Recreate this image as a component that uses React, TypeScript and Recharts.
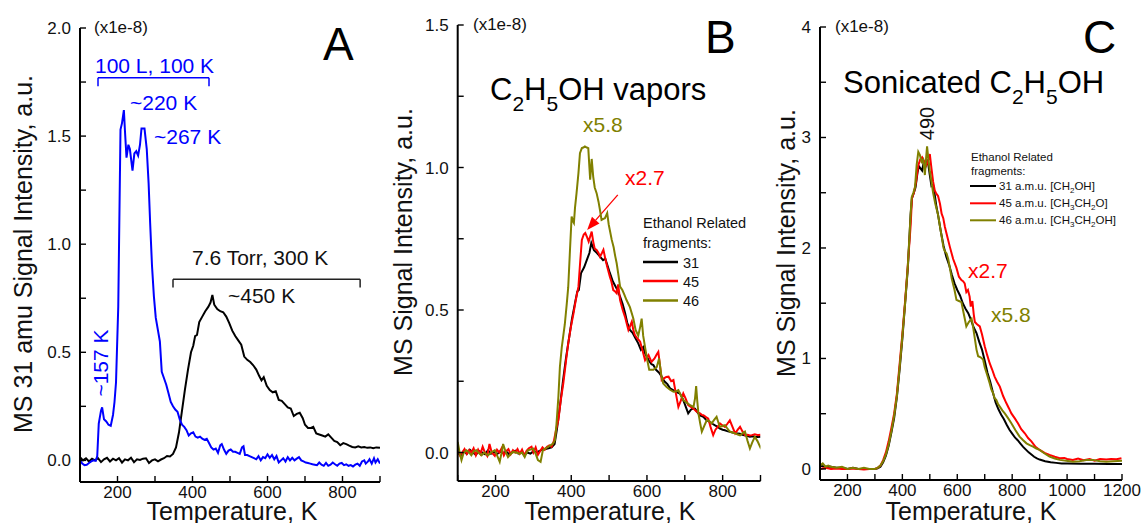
import React from 'react';
import { LineChart, Line, XAxis, YAxis, ReferenceLine, Customized } from 'recharts';

type P = [number, number];

const W = 1143;
const H = 523;
const FONT = '"Liberation Sans", Arial, Helvetica, sans-serif';
const BLUE = '#0000ff';
const RED = '#ff0000';
const OLIVE = '#808000';
const BLACK = '#000000';
const YAXIS_W = 40;
const XAXIS_H = 30;

// ---------- Panel A ----------
const A_X_TICKS = [100, 200, 300, 400, 500, 600, 700, 800, 900];
const A_X_LABELS = [200, 400, 600, 800];
const A_Y_TICKS = [0, 0.25, 0.5, 0.75, 1, 1.25, 1.5, 1.75, 2];
const A_Y_LABELS = [0, 0.5, 1, 1.5, 2];

const A_BLACK: P[] = [
  [100, 0.015], [108, 0.0], [116, 0.01], [124, -0.005], [132, 0.008], [140, 0.0], [148, 0.01], [156, -0.008],
  [164, 0.005], [172, 0.012], [180, -0.005], [188, 0.008], [196, 0.0], [204, 0.01], [212, -0.01], [220, 0.005],
  [228, 0.0], [236, 0.012], [244, -0.008], [252, 0.005], [260, 0.002], [268, 0.008], [276, 0.01], [284, -0.012],
  [292, 0.0], [300, 0.005], [308, -0.004], [316, 0.004], [324, 0.01], [332, 0.02], [340, 0.018], [348, 0.03],
  [356, 0.06], [364, 0.13], [372, 0.23], [380, 0.33], [388, 0.42], [396, 0.5], [402, 0.53], [407, 0.575],
  [412, 0.58], [418, 0.64], [426, 0.665], [434, 0.69], [442, 0.71], [448, 0.73], [453, 0.765], [458, 0.72],
  [466, 0.7], [474, 0.69], [482, 0.685], [490, 0.665], [498, 0.635], [506, 0.6], [514, 0.575], [522, 0.555],
  [530, 0.535], [538, 0.48], [546, 0.465], [554, 0.455], [562, 0.44], [570, 0.42], [578, 0.39], [584, 0.37],
  [590, 0.385], [598, 0.345], [606, 0.325], [614, 0.315], [622, 0.32], [630, 0.28], [638, 0.275], [646, 0.26],
  [654, 0.245], [662, 0.24], [670, 0.205], [678, 0.215], [686, 0.22], [694, 0.195], [700, 0.165], [708, 0.15],
  [716, 0.15], [722, 0.155], [730, 0.125], [738, 0.12], [746, 0.115], [754, 0.11], [762, 0.12], [770, 0.105],
  [778, 0.09], [786, 0.085], [794, 0.07], [802, 0.08], [810, 0.075], [818, 0.068], [826, 0.062], [834, 0.06],
  [842, 0.065], [850, 0.06], [858, 0.062], [866, 0.058], [874, 0.06], [882, 0.056], [890, 0.06], [900, 0.058],
];

const A_BLUE: P[] = [
  [100, 0.0], [106, -0.015], [112, -0.022], [118, -0.02], [124, -0.012], [130, -0.005], [136, 0.0], [142, -0.002],
  [146, 0.02], [150, 0.17], [156, 0.23], [159, 0.245], [164, 0.19], [170, 0.18], [176, 0.165], [182, 0.16],
  [188, 0.21], [192, 0.27], [196, 0.36], [202, 0.71], [208, 1.53], [212, 1.56], [217, 1.62], [220, 1.52],
  [224, 1.4], [229, 1.46], [233, 1.44], [240, 1.34], [245, 1.42], [250, 1.43], [255, 1.41], [260, 1.46],
  [264, 1.535], [272, 1.535], [278, 1.44], [283, 1.28], [287, 1.1], [292, 0.9], [297, 0.76], [302, 0.66],
  [308, 0.6], [313, 0.55], [318, 0.41], [324, 0.38], [330, 0.35], [336, 0.31], [342, 0.27], [348, 0.25],
  [354, 0.235], [360, 0.225], [366, 0.19], [372, 0.165], [378, 0.155], [384, 0.14], [390, 0.115], [396, 0.125],
  [402, 0.13], [408, 0.11], [414, 0.105], [420, 0.11], [426, 0.1], [432, 0.095], [438, 0.1], [444, 0.08],
  [450, 0.06], [456, 0.05], [462, 0.055], [468, 0.035], [474, 0.07], [478, 0.075], [484, 0.05], [490, 0.03],
  [496, 0.045], [502, 0.05], [508, 0.04], [514, 0.04], [520, 0.035], [526, 0.03], [532, 0.06], [536, 0.065],
  [540, 0.025], [546, 0.025], [552, 0.02], [558, 0.015], [564, 0.01], [570, 0.005], [576, 0.02], [582, 0.0],
  [588, 0.015], [594, 0.01], [600, 0.028], [606, 0.012], [612, 0.025], [618, 0.005], [624, 0.02], [630, -0.01],
  [636, 0.0], [642, 0.01], [648, -0.005], [654, 0.015], [660, 0.0], [666, 0.012], [672, 0.0], [678, 0.008],
  [684, 0.015], [690, 0.0], [696, -0.005], [702, -0.01], [708, -0.012], [714, -0.015], [720, -0.018], [726, -0.02],
  [732, -0.022], [738, -0.01], [744, -0.02], [750, -0.025], [756, -0.012], [762, -0.025], [768, -0.02], [774, -0.01],
  [780, -0.018], [786, -0.025], [792, -0.015], [798, -0.012], [804, -0.022], [810, -0.018], [816, -0.025], [822, -0.022],
  [828, -0.028], [834, -0.02], [840, -0.015], [846, -0.025], [852, -0.005], [858, 0.0], [862, -0.015], [868, -0.005],
  [872, 0.005], [878, -0.015], [884, 0.01], [888, -0.01], [894, 0.005], [900, -0.015],
];

// ---------- Panel B ----------
const B_X_TICKS = [100, 200, 300, 400, 500, 600, 700, 800, 900];
const B_X_LABELS = [200, 400, 600, 800];
const B_Y_TICKS = [0, 0.25, 0.5, 0.75, 1, 1.25, 1.5];
const B_Y_LABELS = [0, 0.5, 1, 1.5];

const B_31: P[] = [
  [100, 0.0], [108, -0.01], [116, 0.005], [124, -0.005], [132, 0.01], [140, 0.0], [148, -0.008], [156, 0.005],
  [164, 0.0], [172, -0.006], [180, 0.008], [188, -0.004], [196, 0.002], [204, -0.006], [212, 0.004], [220, -0.002],
  [228, 0.004], [236, -0.006], [244, 0.0], [252, 0.006], [260, -0.004], [268, 0.002], [276, -0.008], [284, 0.0],
  [292, -0.004], [300, 0.004], [308, 0.0], [316, 0.006], [324, 0.01], [332, 0.012], [340, 0.015], [348, 0.018],
  [356, 0.03], [362, 0.08], [370, 0.16], [378, 0.25], [386, 0.33], [394, 0.4], [402, 0.47], [410, 0.525],
  [416, 0.565], [420, 0.57], [426, 0.63], [434, 0.65], [441, 0.675], [448, 0.7], [453, 0.735], [460, 0.71],
  [468, 0.7], [476, 0.687], [484, 0.675], [490, 0.68], [496, 0.655], [502, 0.63], [510, 0.6], [516, 0.585],
  [522, 0.57], [529, 0.547], [536, 0.52], [542, 0.49], [548, 0.455], [555, 0.43], [562, 0.42], [570, 0.4],
  [577, 0.383], [584, 0.36], [590, 0.37], [595, 0.348], [600, 0.335], [606, 0.32], [612, 0.31], [617, 0.307],
  [624, 0.29], [632, 0.28], [639, 0.266], [646, 0.25], [654, 0.24], [661, 0.225], [668, 0.22], [674, 0.215],
  [681, 0.21], [687, 0.207], [694, 0.19], [700, 0.17], [709, 0.137], [716, 0.15], [722, 0.155], [727, 0.154],
  [734, 0.14], [740, 0.13], [749, 0.125], [756, 0.115], [762, 0.11], [767, 0.107], [774, 0.1], [780, 0.095],
  [787, 0.09], [793, 0.084], [800, 0.08], [806, 0.078], [812, 0.075], [819, 0.073], [826, 0.07], [833, 0.068],
  [840, 0.067], [846, 0.066], [852, 0.062], [860, 0.06], [866, 0.058], [872, 0.055], [880, 0.057], [886, 0.055],
  [892, 0.054], [900, 0.055],
];

const B_45: P[] = [
  [100, 0.005], [106, -0.01], [112, 0.0], [118, 0.012], [124, -0.005], [130, 0.008], [136, 0.0], [142, 0.015],
  [148, -0.01], [154, 0.01], [160, -0.005], [166, 0.02], [172, 0.0], [178, -0.012], [184, 0.03], [190, 0.0],
  [198, -0.012], [204, 0.01], [210, 0.0], [216, 0.015], [222, -0.01], [228, 0.005], [234, 0.012], [240, -0.006],
  [246, 0.008], [252, 0.0], [258, 0.012], [264, -0.004], [270, 0.01], [276, -0.01], [282, 0.006], [288, 0.015],
  [295, 0.02], [300, 0.0], [306, 0.018], [312, -0.008], [318, 0.005], [324, 0.018], [330, 0.01], [336, 0.02],
  [342, 0.025], [348, 0.02], [354, 0.04], [360, 0.08], [366, 0.114], [372, 0.18], [379, 0.243], [386, 0.32],
  [392, 0.383], [399, 0.44], [406, 0.488], [412, 0.535], [419, 0.582], [423, 0.658], [428, 0.746], [433, 0.765],
  [437, 0.77], [442, 0.755], [446, 0.74], [450, 0.758], [454, 0.775], [458, 0.74], [462, 0.715], [467, 0.711],
  [472, 0.7], [476, 0.687], [481, 0.7], [485, 0.711], [490, 0.68], [495, 0.652], [502, 0.617], [506, 0.6],
  [511, 0.57], [516, 0.565], [520, 0.559], [524, 0.59], [529, 0.535], [536, 0.5], [542, 0.476], [547, 0.45],
  [551, 0.43], [556, 0.445], [560, 0.459], [564, 0.43], [568, 0.412], [575, 0.4], [582, 0.389], [588, 0.36],
  [595, 0.324], [600, 0.335], [604, 0.342], [608, 0.33], [612, 0.318], [620, 0.33], [626, 0.345], [630, 0.353],
  [635, 0.3], [639, 0.254], [645, 0.26], [651, 0.265], [657, 0.266], [664, 0.25], [670, 0.254], [676, 0.21],
  [683, 0.16], [689, 0.18], [696, 0.207], [702, 0.19], [709, 0.166], [716, 0.16], [723, 0.154], [730, 0.145],
  [736, 0.14], [740, 0.137], [745, 0.132], [749, 0.131], [756, 0.124], [762, 0.119], [768, 0.09], [775, 0.061],
  [781, 0.08], [787, 0.09], [793, 0.102], [800, 0.095], [806, 0.09], [812, 0.1], [819, 0.113], [826, 0.09],
  [833, 0.067], [840, 0.08], [846, 0.09], [852, 0.075], [859, 0.061], [866, 0.062], [872, 0.06], [877, 0.061],
  [885, 0.064], [894, 0.061], [900, 0.062],
];

const B_46: P[] = [
  [100, 0.037], [105, 0.0], [110, -0.027], [116, 0.0], [123, 0.008], [130, 0.0], [136, -0.01], [143, 0.005],
  [149, 0.008], [156, -0.002], [163, -0.01], [170, 0.0], [180, -0.01], [188, 0.0], [198, 0.008], [204, -0.01],
  [211, -0.033], [216, 0.0], [220, 0.03], [226, 0.005], [233, -0.016], [240, -0.005], [246, 0.002], [254, 0.0],
  [264, -0.004], [270, 0.0], [277, -0.016], [282, 0.0], [286, 0.008], [292, 0.01], [299, 0.014], [306, -0.005],
  [312, -0.027], [319, -0.033], [325, 0.008], [332, 0.015], [339, 0.02], [346, 0.026], [352, 0.031], [357, 0.044],
  [361, 0.1], [366, 0.195], [370, 0.3], [375, 0.37], [383, 0.45], [388, 0.52], [392, 0.58], [397, 0.72],
  [401, 0.828], [405, 0.81], [407, 0.805], [410, 0.86], [414, 0.91], [419, 0.98], [423, 1.05], [428, 1.068],
  [432, 1.07], [436, 1.074], [441, 1.07], [445, 1.068], [448, 1.0], [450, 0.957], [454, 1.03], [458, 0.968],
  [462, 0.93], [467, 0.91], [472, 0.88], [476, 0.85], [480, 0.816], [485, 0.82], [489, 0.822], [495, 0.84],
  [499, 0.8], [502, 0.78], [507, 0.746], [512, 0.72], [516, 0.69], [520, 0.664], [525, 0.62], [529, 0.582],
  [535, 0.57], [540, 0.555], [546, 0.535], [555, 0.51], [564, 0.47], [570, 0.43], [577, 0.41], [582, 0.44],
  [586, 0.47], [590, 0.41], [595, 0.37], [600, 0.33], [606, 0.29], [617, 0.29], [626, 0.3], [632, 0.33],
  [638, 0.27], [643, 0.242], [652, 0.23], [661, 0.22], [670, 0.213], [678, 0.215], [683, 0.219], [690, 0.2],
  [696, 0.184], [705, 0.175], [714, 0.166], [723, 0.16], [727, 0.19], [730, 0.233], [733, 0.18], [736, 0.137],
  [741, 0.1], [745, 0.073], [752, 0.095], [758, 0.113], [765, 0.11], [771, 0.102], [778, 0.115], [784, 0.125],
  [790, 0.1], [793, 0.09], [800, 0.093], [806, 0.096], [812, 0.085], [819, 0.073], [826, 0.07], [833, 0.067],
  [840, 0.063], [846, 0.06], [852, 0.067], [859, 0.073], [866, 0.04], [872, 0.014], [878, 0.035], [885, 0.055],
  [892, 0.04], [899, 0.02], [900, 0.025],
];

// ---------- Panel C ----------
const C_X_TICKS = [100, 200, 300, 400, 500, 600, 700, 800, 900, 1000, 1100, 1200];
const C_X_LABELS = [200, 400, 600, 800, 1000, 1200];
const C_Y_TICKS = [0, 0.5, 1, 1.5, 2, 2.5, 3, 3.5, 4];
const C_Y_LABELS = [0, 1, 2, 3, 4];

const C_31: P[] = [
  [100, 0.03], [120, 0.02], [140, 0.02], [160, 0.01], [180, 0.01], [200, 0.0], [220, 0.01], [240, 0.0],
  [260, 0.0], [280, 0.0], [300, 0.0], [310, 0.005], [320, 0.02], [330, 0.06], [340, 0.12], [350, 0.21],
  [360, 0.33], [370, 0.46], [380, 0.65], [390, 0.9], [400, 1.18], [410, 1.5], [420, 1.82], [430, 2.3],
  [435, 2.45], [442, 2.5], [448, 2.55], [455, 2.68], [460, 2.74], [466, 2.72], [472, 2.7], [478, 2.78],
  [485, 2.74], [492, 2.8], [500, 2.66], [506, 2.56], [512, 2.57], [518, 2.48], [524, 2.375], [530, 2.3],
  [540, 2.15], [550, 2.02], [560, 1.92], [570, 1.85], [580, 1.76], [590, 1.68], [600, 1.62], [610, 1.57],
  [620, 1.5], [630, 1.45], [640, 1.41], [650, 1.35], [660, 1.28], [670, 1.23], [680, 1.15], [690, 1.08],
  [700, 0.98], [710, 0.87], [720, 0.79], [730, 0.69], [740, 0.6], [750, 0.54], [760, 0.49], [770, 0.45],
  [780, 0.4], [790, 0.355], [800, 0.32], [810, 0.285], [820, 0.26], [830, 0.23], [840, 0.2], [850, 0.175],
  [860, 0.15], [870, 0.13], [880, 0.11], [890, 0.095], [900, 0.085], [920, 0.07], [940, 0.06], [960, 0.055],
  [980, 0.05], [1000, 0.05], [1050, 0.048], [1100, 0.046], [1150, 0.045], [1200, 0.045],
];

const C_45: P[] = [
  [100, 0.0], [120, 0.01], [140, 0.0], [160, 0.005], [180, 0.0], [200, 0.0], [220, 0.005], [240, 0.0],
  [260, -0.005], [280, 0.0], [300, 0.0], [310, 0.01], [320, 0.03], [330, 0.08], [340, 0.15], [350, 0.25],
  [360, 0.37], [370, 0.5], [380, 0.68], [390, 0.95], [400, 1.22], [410, 1.52], [420, 1.85], [430, 2.2],
  [435, 2.45], [442, 2.5], [450, 2.6], [458, 2.75], [465, 2.8], [472, 2.82], [480, 2.78], [488, 2.75],
  [495, 2.8], [500, 2.85], [506, 2.72], [512, 2.6], [518, 2.52], [524, 2.49], [530, 2.47], [537, 2.4],
  [543, 2.31], [549, 2.27], [555, 2.19], [564, 2.1], [573, 2.01], [585, 1.9], [597, 1.82], [606, 1.74],
  [615, 1.71], [621, 1.7], [627, 1.68], [633, 1.6], [639, 1.62], [645, 1.56], [649, 1.47], [655, 1.52],
  [660, 1.4], [664, 1.33], [672, 1.31], [682, 1.29], [690, 1.22], [700, 1.11], [709, 1.03], [718, 0.957],
  [727, 0.9], [736, 0.836], [745, 0.79], [755, 0.745], [767, 0.66], [779, 0.594], [788, 0.55], [797, 0.503],
  [809, 0.46], [821, 0.413], [833, 0.36], [846, 0.323], [858, 0.28], [870, 0.25], [885, 0.2], [900, 0.172],
  [918, 0.145], [936, 0.127], [955, 0.11], [973, 0.097], [990, 0.1], [1000, 0.09], [1021, 0.082], [1040, 0.095],
  [1060, 0.08], [1082, 0.09], [1100, 0.075], [1120, 0.09], [1143, 0.085], [1160, 0.09], [1180, 0.088], [1198, 0.097],
];

const C_46: P[] = [
  [100, 0.03], [110, 0.05], [120, 0.02], [130, 0.03], [140, 0.02], [160, 0.01], [180, 0.02], [200, 0.0],
  [220, 0.01], [240, 0.0], [260, 0.01], [280, 0.0], [300, 0.0], [310, 0.01], [320, 0.03], [330, 0.07],
  [340, 0.13], [350, 0.22], [360, 0.34], [370, 0.48], [380, 0.66], [390, 0.92], [400, 1.2], [410, 1.5],
  [420, 1.84], [430, 2.3], [434, 2.46], [440, 2.5], [446, 2.55], [452, 2.75], [458, 2.87], [464, 2.84],
  [470, 2.78], [476, 2.8], [482, 2.66], [486, 2.8], [490, 2.92], [495, 2.8], [500, 2.7], [506, 2.6],
  [512, 2.5], [520, 2.4], [530, 2.3], [540, 2.15], [550, 2.0], [555, 1.97], [561, 1.95], [567, 1.9],
  [573, 1.82], [580, 1.72], [590, 1.62], [597, 1.53], [606, 1.52], [615, 1.51], [624, 1.4], [633, 1.29],
  [642, 1.33], [652, 1.36], [658, 1.28], [664, 1.18], [670, 1.08], [676, 1.02], [685, 1.01], [694, 0.99],
  [700, 0.92], [709, 0.85], [718, 0.776], [724, 0.72], [730, 0.69], [736, 0.64], [742, 0.625], [748, 0.59],
  [755, 0.564], [764, 0.53], [773, 0.503], [785, 0.46], [797, 0.413], [812, 0.35], [827, 0.293], [840, 0.26],
  [852, 0.232], [864, 0.215], [876, 0.202], [888, 0.185], [900, 0.172], [918, 0.14], [936, 0.112], [955, 0.095],
  [973, 0.082], [997, 0.075], [1021, 0.066], [1045, 0.07], [1070, 0.08], [1094, 0.082], [1120, 0.07], [1143, 0.066],
  [1170, 0.07], [1200, 0.075],
];

const toRows = (pts: P[]) => pts.map(([t, v]) => ({ t, v }));

const makeXTick = (labels: number[]) => (props: any) => {
  const { x, y, payload } = props;
  const v = payload.value;
  return (
    <g>
      <line x1={x} y1={y} x2={x} y2={y - 6} stroke="#000" strokeWidth={1.4} />
      {labels.includes(v) && (
        <text x={x} y={y + 16} textAnchor="middle" fontSize={17} fill="#111" fontFamily={FONT}>
          {v}
        </text>
      )}
    </g>
  );
};

const makeYTick = (labels: number[], fmt: (v: number) => string) => (props: any) => {
  const { x, y, payload } = props;
  const v = payload.value;
  return (
    <g>
      <line x1={x} y1={y} x2={x + 6} y2={y} stroke="#000" strokeWidth={1.4} />
      {labels.includes(v) && (
        <text x={x - 9} y={y + 6} textAnchor="end" fontSize={17} fill="#111" fontFamily={FONT}>
          {fmt(v)}
        </text>
      )}
    </g>
  );
};

const Arrow = (p: any) => {
  const { x1, y1, x2, y2 } = p;
  if (x1 == null || y1 == null || x2 == null || y2 == null) return null;
  const ang = Math.atan2(y2 - y1, x2 - x1);
  const L = 13;
  const Wd = 5;
  const bx = x2 - L * Math.cos(ang);
  const by = y2 - L * Math.sin(ang);
  const px = -Math.sin(ang) * Wd;
  const py = Math.cos(ang) * Wd;
  return (
    <g>
      <line x1={x1} y1={y1} x2={bx} y2={by} stroke={RED} strokeWidth={1.3} />
      <polygon points={`${x2},${y2} ${bx + px},${by + py} ${bx - px},${by - py}`} fill={RED} />
    </g>
  );
};

type Series = { name: string; pts: P[]; color: string };

type PanelProps = {
  plot: { left: number; right: number; top: number; bottom: number };
  xDomain: [number, number];
  yDomain: [number, number];
  xTicks: number[];
  xLabels: number[];
  yTicks: number[];
  yLabels: number[];
  yFmt: (v: number) => string;
  series: Series[];
  refs?: React.ReactNode[];
  overlay: () => React.ReactElement;
};

function Panel({ plot, xDomain, yDomain, xTicks, xLabels, yTicks, yLabels, yFmt, series, refs, overlay }: PanelProps) {
  const margin = {
    left: plot.left - YAXIS_W,
    right: W - plot.right,
    top: plot.top,
    bottom: H - plot.bottom - XAXIS_H,
  };
  return (
    <div style={{ position: 'absolute', left: 0, top: 0 }}>
      <LineChart width={W} height={H} margin={margin}>
        <XAxis
          type="number"
          dataKey="t"
          domain={xDomain}
          ticks={xTicks}
          interval={0}
          allowDataOverflow
          height={XAXIS_H}
          tickSize={0}
          tickMargin={0}
          axisLine={{ stroke: '#000', strokeWidth: 2 }}
          tickLine={false}
          tick={makeXTick(xLabels)}
        />
        <YAxis
          type="number"
          domain={yDomain}
          ticks={yTicks}
          interval={0}
          allowDataOverflow
          width={YAXIS_W}
          tickSize={0}
          tickMargin={0}
          axisLine={{ stroke: '#000', strokeWidth: 2 }}
          tickLine={false}
          tick={makeYTick(yLabels, yFmt)}
        />
        {refs}
        {series.map((s) => (
          <Line
            key={s.name}
            name={s.name}
            data={toRows(s.pts)}
            dataKey="v"
            type="linear"
            stroke={s.color}
            strokeWidth={2}
            dot={false}
            activeDot={false}
            isAnimationActive={false}
          />
        ))}
        <Customized component={overlay} />
      </LineChart>
    </div>
  );
}

const txt = { fontFamily: FONT } as const;
const TITLE_Y = 519.5;

const OverlayA = () => (
  <g style={txt}>
    <text x={94} y={32.5} fontSize={17} fill="#111">(x1e-8)</text>
    <text x={323} y={60} fontSize={46} fill="#000">A</text>
    <text x={95} y={73} fontSize={21} fill={BLUE}>100 L, 100 K</text>
    <text x={130} y={110} fontSize={21} fill={BLUE}>~220 K</text>
    <text x={154} y={144} fontSize={21} fill={BLUE}>~267 K</text>
    <text x={108} y={363} fontSize={21} fill={BLUE} textAnchor="middle" transform="rotate(-90 108 363)">~157 K</text>
    <text x={192} y={265} fontSize={21} fill="#111">7.6 Torr, 300 K</text>
    <text x={228} y={303} fontSize={21} fill="#111">~450 K</text>
    <text x={232} y={TITLE_Y} fontSize={25} fill="#111" textAnchor="middle">Temperature, K</text>
    <text x={31.5} y={254} fontSize={25} fill="#111" textAnchor="middle" transform="rotate(-90 31.5 254)">
      MS 31 amu Signal Intensity, a.u.
    </text>
  </g>
);

const OverlayB = () => (
  <g style={txt}>
    <text x={473} y={29.5} fontSize={17} fill="#111">(x1e-8)</text>
    <text x={705} y={53} fontSize={46} fill="#000">B</text>
    <text x={490} y={100} fontSize={31} fill="#000">
      C<tspan fontSize={21} dy={11}>2</tspan>
      <tspan fontSize={31} dy={-11}>H</tspan>
      <tspan fontSize={21} dy={11}>5</tspan>
      <tspan fontSize={31} dy={-11}>OH vapors</tspan>
    </text>
    <text x={583} y={132} fontSize={21} fill={OLIVE}>x5.8</text>
    <text x={625} y={185} fontSize={21} fill={RED}>x2.7</text>
    <text x={643} y={228} fontSize={14.5} fill="#111">Ethanol Related</text>
    <text x={643} y={247.5} fontSize={14.5} fill="#111">fragments:</text>
    {[
      { c: BLACK, l: '31', y: 262 },
      { c: RED, l: '45', y: 281 },
      { c: OLIVE, l: '46', y: 300.5 },
    ].map((r) => (
      <g key={r.l}>
        <line x1={643} y1={r.y} x2={678} y2={r.y} stroke={r.c} strokeWidth={2.5} />
        <text x={683} y={r.y + 5.5} fontSize={14.5} fill="#111">{r.l}</text>
      </g>
    ))}
    <text x={610} y={TITLE_Y} fontSize={25} fill="#111" textAnchor="middle">Temperature, K</text>
    <text x={411.5} y={242} fontSize={25} fill="#111" textAnchor="middle" transform="rotate(-90 411.5 242)">
      MS Signal Intensity, a.u.
    </text>
  </g>
);

const OverlayC = () => (
  <g style={txt}>
    <text x={835} y={31.5} fontSize={17} fill="#111">(x1e-8)</text>
    <text x={1083} y={53} fontSize={46} fill="#000">C</text>
    <text x={843} y={93} fontSize={31} fill="#000">
      Sonicated C<tspan fontSize={21} dy={11}>2</tspan>
      <tspan fontSize={31} dy={-11}>H</tspan>
      <tspan fontSize={21} dy={11}>5</tspan>
      <tspan fontSize={31} dy={-11}>OH</tspan>
    </text>
    <text x={934} y={123.5} fontSize={20} fill="#111" textAnchor="middle" transform="rotate(-90 934 123.5)">490</text>
    <text x={971} y={161} fontSize={11.5} fill="#111">Ethanol Related</text>
    <text x={971} y={174.5} fontSize={11.5} fill="#111">fragments:</text>
    <line x1={970} y1={186} x2={996} y2={186} stroke={BLACK} strokeWidth={2} />
    <text x={999} y={190} fontSize={11.5} fill="#111">
      31 a.m.u. [CH<tspan fontSize={8} dy={3}>2</tspan><tspan dy={-3}>OH]</tspan>
    </text>
    <line x1={970} y1={203.3} x2={996} y2={203.3} stroke={RED} strokeWidth={2} />
    <text x={999} y={207.3} fontSize={11.5} fill="#111">
      45 a.m.u. [CH<tspan fontSize={8} dy={3}>3</tspan><tspan dy={-3}>CH</tspan><tspan fontSize={8} dy={3}>2</tspan><tspan dy={-3}>O]</tspan>
    </text>
    <line x1={970} y1={220.3} x2={996} y2={220.3} stroke={OLIVE} strokeWidth={2} />
    <text x={999} y={224.3} fontSize={11.5} fill="#111">
      46 a.m.u. [CH<tspan fontSize={8} dy={3}>3</tspan><tspan dy={-3}>CH</tspan><tspan fontSize={8} dy={3}>2</tspan><tspan dy={-3}>OH]</tspan>
    </text>
    <text x={968} y={278} fontSize={21} fill={RED}>x2.7</text>
    <text x={991} y={322} fontSize={21} fill={OLIVE}>x5.8</text>
    <text x={971} y={TITLE_Y} fontSize={25} fill="#111" textAnchor="middle">Temperature, K</text>
    <text x={795} y={243} fontSize={25} fill="#111" textAnchor="middle" transform="rotate(-90 795 243)">
      MS Signal Intensity, a.u.
    </text>
  </g>
);

// bracket definitions in data coordinates
const A_BRACKET_BLUE = { x0: 148, x1: 444, y: 1.77, yEnd: 1.73 };
const A_BRACKET_BLACK = { x0: 348, x1: 847, y: 0.838, yEnd: 0.8 };
const B_ARROW = { from: { x: 523, y: 0.904 }, to: { x: 442, y: 0.781 } };

const bracket = (b: { x0: number; x1: number; y: number; yEnd: number }, color: string, key: string) => [
  <ReferenceLine key={key + 'h'} segment={[{ x: b.x0, y: b.y }, { x: b.x1, y: b.y }]} stroke={color} strokeWidth={1.5} ifOverflow="visible" />,
  <ReferenceLine key={key + 'l'} segment={[{ x: b.x0, y: b.y }, { x: b.x0, y: b.yEnd }]} stroke={color} strokeWidth={1.5} ifOverflow="visible" />,
  <ReferenceLine key={key + 'r'} segment={[{ x: b.x1, y: b.y }, { x: b.x1, y: b.yEnd }]} stroke={color} strokeWidth={1.5} ifOverflow="visible" />,
];

export default function App() {
  return (
    <div style={{ position: 'absolute', left: 0, top: 0, width: W, height: H, background: '#fff', fontFamily: FONT }}>
      <Panel
        plot={{ left: 80, right: 380, top: 28, bottom: 482 }}
        xDomain={[100, 900]}
        yDomain={[-0.1, 2]}
        xTicks={A_X_TICKS}
        xLabels={A_X_LABELS}
        yTicks={A_Y_TICKS}
        yLabels={A_Y_LABELS}
        yFmt={(v) => v.toFixed(1)}
        series={[
          { name: 'A 31 amu 7.6 Torr', pts: A_BLACK, color: BLACK },
          { name: 'A 31 amu 100 L', pts: A_BLUE, color: BLUE },
        ]}
        refs={[...bracket(A_BRACKET_BLUE, BLUE, 'bb'), ...bracket(A_BRACKET_BLACK, '#222', 'bk')]}
        overlay={OverlayA}
      />
      <Panel
        plot={{ left: 457.7, right: 760.5, top: 25, bottom: 481 }}
        xDomain={[100, 900]}
        yDomain={[-0.1, 1.5]}
        xTicks={B_X_TICKS}
        xLabels={B_X_LABELS}
        yTicks={B_Y_TICKS}
        yLabels={B_Y_LABELS}
        yFmt={(v) => v.toFixed(1)}
        series={[
          { name: 'B 31', pts: B_31, color: BLACK },
          { name: 'B 45', pts: B_45, color: RED },
          { name: 'B 46', pts: B_46, color: OLIVE },
        ]}
        refs={[
          <ReferenceLine
            key="arrow"
            segment={[B_ARROW.from, B_ARROW.to]}
            stroke={RED}
            ifOverflow="visible"
            shape={(p: any) => <Arrow {...p} />}
          />,
        ]}
        overlay={OverlayB}
      />
      <Panel
        plot={{ left: 820, right: 1122, top: 27, bottom: 480 }}
        xDomain={[100, 1200]}
        yDomain={[-0.1, 4]}
        xTicks={C_X_TICKS}
        xLabels={C_X_LABELS}
        yTicks={C_Y_TICKS}
        yLabels={C_Y_LABELS}
        yFmt={(v) => String(v)}
        series={[
          { name: 'C 31', pts: C_31, color: BLACK },
          { name: 'C 45', pts: C_45, color: RED },
          { name: 'C 46', pts: C_46, color: OLIVE },
        ]}
        overlay={OverlayC}
      />
    </div>
  );
}
